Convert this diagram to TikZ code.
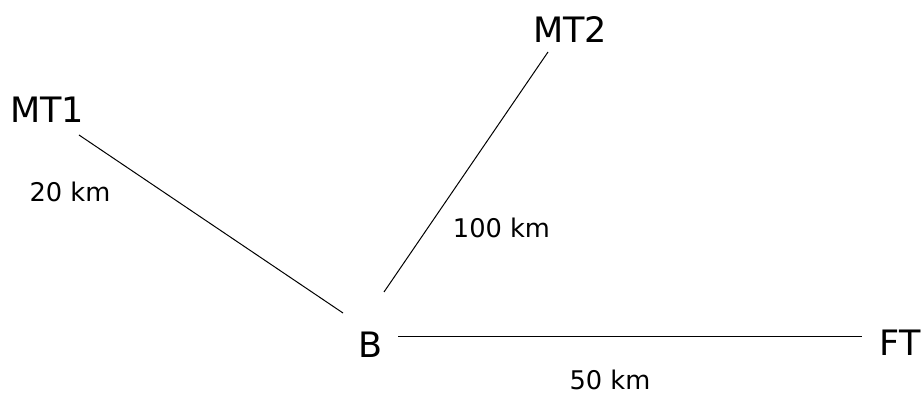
\documentclass[tikz,border=0pt]{standalone}
\usepackage{fontspec}
\setmainfont{DejaVu Sans}
\begin{document}
\begin{tikzpicture}[x=1pt,y=1pt,
  big/.style={font=\fontsize{35}{38}\selectfont, anchor=base, inner sep=0pt},
  small/.style={font=\fontsize{25.7}{30}\selectfont, anchor=base, inner sep=0pt},
  link/.style={line width=1pt, black}]
\useasboundingbox (0,0) rectangle (922,396);
\node[big] (mt1) at (47,273) {MT1};
\node[big] (mt2) at (570,353) {MT2};
\node[big] (b) at (370.5,38) {B};
\node[big] (ft) at (900,40) {FT};
\node[small] (l20) at (70,194) {20 km};
\node[small] (l100) at (501.5,158) {100 km};
\node[small] (l50) at (610,6) {50 km};
\coordinate (mt1e) at (79,261);
\coordinate (bmt1) at (343,83);
\coordinate (mt2e) at (548,344);
\coordinate (bmt2) at (384,104);
\coordinate (bft) at (398,59);
\coordinate (fte) at (862,59);
\draw[link] (mt1e) -- (bmt1);
\draw[link] (mt2e) -- (bmt2);
\draw[link] (bft) -- (fte);
\end{tikzpicture}
\end{document}
